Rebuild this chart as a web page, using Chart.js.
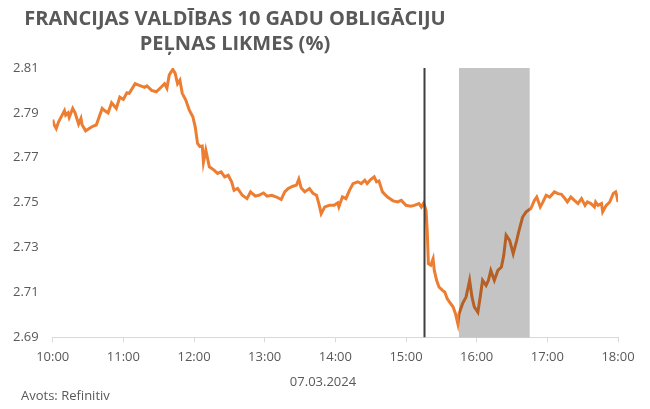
<!DOCTYPE html>
<html>
<head>
<meta charset="utf-8">
<script src="https://cdn.jsdelivr.net/npm/chart.js@4.4.1/dist/chart.umd.min.js"></script>
<style>
  html, body { margin: 0; padding: 0; background: #ffffff; }
  #wrap { position: relative; width: 650px; height: 409px; overflow: hidden; font-family: "Open Sans", sans-serif; color: #595959; }
  #c { position: absolute; left: 0; top: 0; }
  .title { position: absolute; left: 0; top: 5px; width: 470px; text-align: center; font-weight: 700; font-size: 20px; line-height: 25px; color: #595959; }
  .date { position: absolute; left: 223px; width: 200px; top: 372px; text-align: center; font-size: 13px; line-height: 18px; }
  .src { position: absolute; left: 21px; top: 386px; font-size: 13px; line-height: 18px; }
</style>
</head>
<body>
<div id="wrap">
  <canvas id="c" width="650" height="409"></canvas>
  <div class="title">FRANCIJAS VALDĪBAS 10 GADU OBLIGĀCIJU<br>PEĻNAS LIKMES (%)</div>
  <div class="date">07.03.2024</div>
  <div class="src">Avots: Refinitiv</div>
</div>
<script>
const times = ["10:00","10:01","10:03","10:05","10:07","10:10","10:11","10:13","10:14","10:17","10:19","10:22","10:24","10:25","10:28","10:31","10:34","10:37","10:39","10:42","10:44","10:47","10:50","10:54","10:57","11:00","11:03","11:05","11:10","11:13","11:18","11:20","11:24","11:28","11:32","11:35","11:37","11:39","11:42","11:44","11:46","11:48","11:50","11:53","11:56","11:59","12:01","12:03","12:05","12:07","12:08","12:10","12:13","12:17","12:20","12:23","12:26","12:29","12:32","12:34","12:37","12:41","12:45","12:48","12:52","12:55","12:59","13:02","13:06","13:10","13:14","13:17","13:20","13:24","13:27","13:29","13:31","13:34","13:38","13:41","13:44","13:46","13:48","13:51","13:55","13:59","14:02","14:03","14:06","14:09","14:12","14:15","14:19","14:22","14:25","14:27","14:30","14:33","14:35","14:37","14:40","14:44","14:49","14:53","14:56","15:00","15:04","15:07","15:11","15:13","15:15","15:17","15:18","15:19","15:21","15:23","15:24","15:26","15:28","15:31","15:33","15:35","15:37","15:40","15:42","15:44","15:45","15:48","15:51","15:54","15:56","15:58","16:01","16:03","16:05","16:08","16:10","16:12","16:15","16:18","16:21","16:23","16:25","16:28","16:31","16:34","16:36","16:39","16:42","16:46","16:49","16:51","16:54","16:56","16:59","17:02","17:06","17:09","17:12","17:15","17:17","17:20","17:23","17:26","17:29","17:32","17:34","17:37","17:40","17:41","17:43","17:46","17:47","17:50","17:53","17:56","17:58","17:59","18:00"];
const yields = [2.787,2.785,2.783,2.786,2.788,2.791,2.789,2.790,2.788,2.792,2.790,2.785,2.7875,2.7846,2.782,2.783,2.784,2.7846,2.7875,2.792,2.791,2.790,2.7945,2.792,2.797,2.796,2.799,2.7987,2.803,2.8024,2.8014,2.802,2.800,2.7994,2.8014,2.803,2.801,2.807,2.8094,2.8076,2.803,2.8046,2.7987,2.7957,2.7912,2.7883,2.7838,2.7764,2.775,2.7752,2.768,2.7734,2.766,2.7645,2.763,2.7637,2.7615,2.7622,2.7592,2.7555,2.7563,2.7533,2.7518,2.7548,2.7529,2.7533,2.7543,2.7529,2.7533,2.7525,2.7514,2.7548,2.7563,2.7573,2.7578,2.7605,2.7565,2.7548,2.7563,2.7541,2.7533,2.7496,2.7451,2.7481,2.7488,2.7488,2.7499,2.7481,2.7526,2.7518,2.7555,2.7585,2.7593,2.7585,2.760,2.7585,2.7603,2.7615,2.7593,2.7597,2.7548,2.7526,2.7508,2.7503,2.751,2.7488,2.7484,2.7488,2.7496,2.7481,2.7499,2.7466,2.7377,2.7228,2.7221,2.725,2.7198,2.7154,2.7124,2.7109,2.7101,2.7072,2.7057,2.7035,2.7005,2.696,2.7005,2.705,2.708,2.7154,2.708,2.7035,2.7012,2.708,2.7154,2.7131,2.7154,2.7198,2.7154,2.7198,2.7213,2.7265,2.7355,2.7332,2.7273,2.7332,2.7377,2.7436,2.7459,2.7474,2.751,2.7525,2.7481,2.750,2.7533,2.7525,2.7548,2.754,2.7537,2.7518,2.7503,2.7525,2.751,2.7496,2.7518,2.7488,2.7503,2.7496,2.7481,2.7503,2.7488,2.7496,2.7459,2.7488,2.7503,2.7541,2.7548,2.753,2.7503];
const xTickLabels = ["10:00","11:00","12:00","13:00","14:00","15:00","16:00","17:00","18:00"];
const yTicks = [2.69, 2.71, 2.73, 2.75, 2.77, 2.79, 2.81];
const eventTime = ["15:15"];
const shadedRange = ["15:45", "16:45"];

const START = "10:00";
function toMin(t) { const p = t.split(":"); return (+p[0]) * 60 + (+p[1]); }
const base = toMin(START);
const rel = t => toMin(t) - base;

const markers = {
  id: 'markers',
  afterDatasetsDraw(chart) {
    const ctx = chart.ctx, xs = chart.scales.x, a = chart.chartArea;
    const x1 = xs.getPixelForValue(rel(shadedRange[0]));
    const x2 = xs.getPixelForValue(rel(shadedRange[1]));
    ctx.save();
    ctx.globalCompositeOperation = 'multiply';
    ctx.fillStyle = '#C4C4C4';
    ctx.fillRect(x1, a.top, x2 - x1, a.bottom - a.top);
    ctx.restore();
    ctx.save();
    eventTime.forEach(t => {
      const x = Math.round(xs.getPixelForValue(rel(t))) + 0.5;
      ctx.strokeStyle = '#3F3F3F';
      ctx.lineWidth = 2;
      ctx.beginPath();
      ctx.moveTo(x, a.top);
      ctx.lineTo(x, a.bottom);
      ctx.stroke();
    });
    ctx.restore();
  }
};

const tickFont = { family: "'Open Sans', sans-serif", size: 13 };

new Chart(document.getElementById('c'), {
  type: 'line',
  data: {
    datasets: [{
      data: times.map((t, i) => ({ x: rel(t), y: yields[i] })),
      borderColor: '#ED7D31',
      borderWidth: 3,
      pointRadius: 0,
      tension: 0,
      fill: false
    }]
  },
  options: {
    responsive: false,
    animation: false,
    devicePixelRatio: 1,
    layout: { padding: { left: 0, right: 32, top: 68, bottom: 0 } },
    plugins: { legend: { display: false }, title: { display: false }, tooltip: { enabled: false } },
    scales: {
      x: {
        type: 'linear',
        min: rel(xTickLabels[0]),
        max: rel(xTickLabels[xTickLabels.length - 1]),
        afterBuildTicks: s => { s.ticks = xTickLabels.map(l => ({ value: rel(l) })); },
        afterFit: s => { s.height = 71.7; },
        ticks: {
          color: '#595959',
          font: tickFont,
          padding: 7,
          maxRotation: 0,
          autoSkip: false,
          callback: (v) => { const m = v + base; return String(Math.floor(m / 60)).padStart(2, '0') + ':' + String(m % 60).padStart(2, '0'); }
        },
        grid: { display: true, drawOnChartArea: false, drawTicks: true, tickLength: 5, color: '#D9D9D9', lineWidth: 1 },
        border: { display: true, color: '#D9D9D9', width: 1 }
      },
      y: {
        min: yTicks[0],
        max: yTicks[yTicks.length - 1],
        afterBuildTicks: s => { s.ticks = yTicks.map(v => ({ value: v })); },
        afterFit: s => { s.width = 52.7; },
        ticks: {
          color: '#595959',
          font: tickFont,
          padding: 14,
          callback: v => Number(v).toFixed(2)
        },
        grid: { display: false, drawTicks: false },
        border: { display: false }
      }
    }
  },
  plugins: [markers]
});
</script>
</body>
</html>
